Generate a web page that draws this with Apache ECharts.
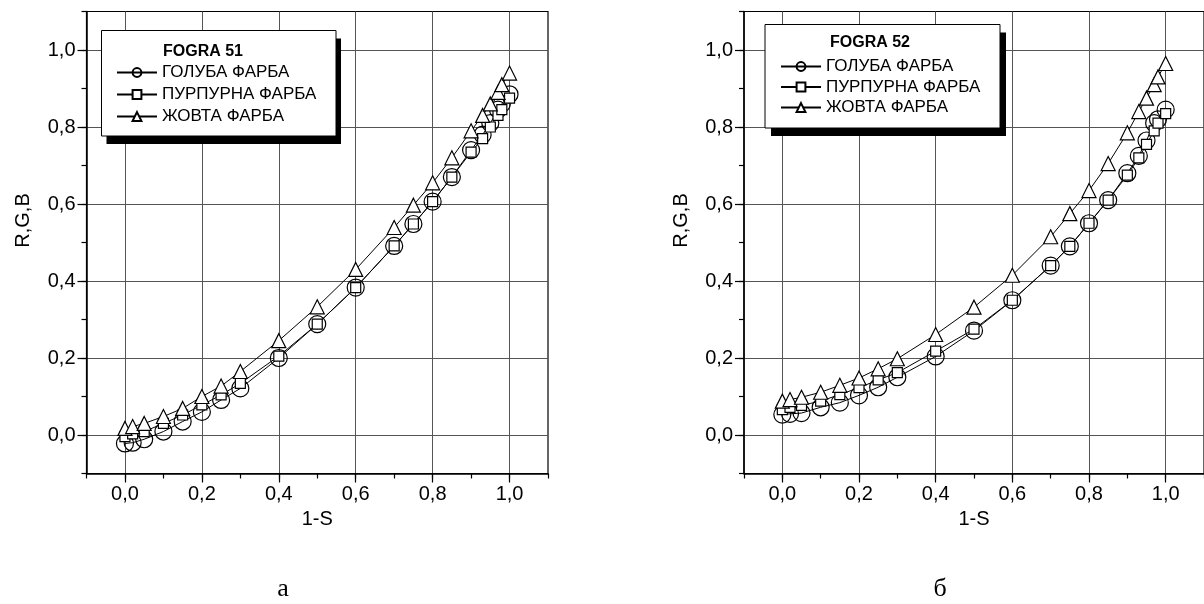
<!DOCTYPE html>
<html><head><meta charset="utf-8">
<script src="https://cdn.jsdelivr.net/npm/echarts@6/dist/echarts.min.js"></script>
<style>html,body{margin:0;padding:0;background:#fff}#c{width:1204px;height:604px}</style>
</head><body><div id="c"></div>
<script>
// ---- data ----
const xValues = [0, 0.02, 0.05, 0.1, 0.15, 0.2, 0.25, 0.3, 0.4, 0.5, 0.6, 0.7, 0.75, 0.8, 0.85, 0.9, 0.93, 0.95, 0.97, 0.98, 1.0];
// FOGRA 51 (a)
const cyan51    = [-0.022, -0.02, -0.011, 0.009, 0.035, 0.06, 0.091, 0.121, 0.2, 0.288, 0.383, 0.491, 0.548, 0.606, 0.67, 0.74, 0.78, 0.81, 0.845, 0.86, 0.885];
const magenta51 = [-0.004, 0.003, 0.009, 0.03, 0.052, 0.078, 0.104, 0.134, 0.205, 0.288, 0.383, 0.491, 0.548, 0.606, 0.67, 0.735, 0.77, 0.8, 0.83, 0.845, 0.875];
const yellow51  = [0.017, 0.022, 0.03, 0.048, 0.069, 0.1, 0.127, 0.165, 0.245, 0.333, 0.43, 0.539, 0.597, 0.655, 0.72, 0.79, 0.83, 0.86, 0.89, 0.91, 0.94];
// FOGRA 52 (б)
const cyan52    = [0.053, 0.055, 0.057, 0.072, 0.084, 0.103, 0.124, 0.15, 0.204, 0.271, 0.35, 0.44, 0.49, 0.55, 0.61, 0.68, 0.725, 0.765, 0.81, 0.82, 0.845];
const magenta52 = [0.066, 0.072, 0.077, 0.088, 0.105, 0.123, 0.143, 0.162, 0.218, 0.275, 0.35, 0.44, 0.49, 0.55, 0.61, 0.675, 0.72, 0.755, 0.79, 0.81, 0.835];
const yellow52  = [0.088, 0.092, 0.098, 0.111, 0.129, 0.148, 0.172, 0.198, 0.261, 0.332, 0.415, 0.515, 0.575, 0.635, 0.705, 0.785, 0.84, 0.875, 0.91, 0.93, 0.965];

const seriesNames = ['ГОЛУБА ФАРБА', 'ПУРПУРНА ФАРБА', 'ЖОВТА ФАРБА'];
const panelTitles = ['FOGRA 51', 'FOGRA 52'];
const panelLetters = ['а', 'б'];
const xTicks = [0, 0.2, 0.4, 0.6, 0.8, 1.0];
const yTicks = [0, 0.2, 0.4, 0.6, 0.8, 1.0];
const xName = '1-S';
const yName = 'R,G,B';

// ---- chart ----
const FONT = '"Liberation Sans", Arial, sans-serif';
const fmt = v => v.toFixed(1).replace('.', ',');
const pair = ys => xValues.map((x, i) => [x, ys[i]]);

const grids = [
  { left: 86.5, top: 11.5, width: 461.5, height: 462 },
  { left: 744, top: 11.5, width: 462, height: 462 }
];

function axesFor(g, isX) {
  const minor = {
    gridIndex: g, type: 'value', min: -0.1, max: 1.1, interval: 0.1,
    position: isX ? 'bottom' : 'left',
    axisLine: { show: true, onZero: false, lineStyle: { color: '#000', width: 1.5 } },
    axisTick: { show: true, length: 5, lineStyle: { color: '#000', width: 1.2 } },
    axisLabel: { show: false }, splitLine: { show: false }
  };
  const major = {
    gridIndex: g, type: 'value', min: -0.1, max: 1.1,
    position: isX ? 'bottom' : 'left',
    axisLine: { show: false, onZero: false },
    axisTick: { show: true, length: 9, customValues: isX ? xTicks : yTicks, lineStyle: { color: '#000', width: 1.2 } },
    axisLabel: { show: true, customValues: isX ? xTicks : yTicks, formatter: fmt, fontSize: 20, color: '#000', fontFamily: FONT, margin: 11 },
    splitLine: { show: true, lineStyle: { color: '#555', width: 1 } },
    name: isX ? xName : yName, nameLocation: 'middle', nameGap: isX ? 36 : 53,
    nameTextStyle: isX
      ? { fontSize: 20, color: '#000', fontFamily: FONT }
      : { fontSize: 20, color: '#000', fontFamily: FONT, padding: [0, 0, 0, 44] }
  };
  return [minor, major];
}

const xAxis = [...axesFor(0, true), ...axesFor(1, true)];
const yAxis = [...axesFor(0, false), ...axesFor(1, false)];

function mk(name, ys, symbol, size, g, fill) {
  return {
    name, type: 'line', data: pair(ys), xAxisIndex: g * 2, yAxisIndex: g * 2,
    symbol, symbolSize: size, showAllSymbol: true,
    lineStyle: { color: '#000', width: 1 },
    itemStyle: { color: fill, borderColor: '#000', borderWidth: 1.2 },
    emphasis: { disabled: true }, animation: false
  };
}

const series = [
  mk(seriesNames[0], cyan51, 'circle', 17, 0, 'rgba(255,255,255,0)'),
  mk(seriesNames[1], magenta51, 'rect', 10, 0, '#fff'),
  mk(seriesNames[2], yellow51, 'triangle', 14, 0, '#fff'),
  mk(seriesNames[0], cyan52, 'circle', 17, 1, 'rgba(255,255,255,0)'),
  mk(seriesNames[1], magenta52, 'rect', 10, 1, '#fff'),
  mk(seriesNames[2], yellow52, 'triangle', 14, 1, '#fff')
];

const legendCommon = {
  orient: 'vertical', itemWidth: 40, itemHeight: 11, selectedMode: false, padding: 0,
  textStyle: { fontSize: 17, color: '#000', fontFamily: FONT, lineHeight: 17 },
  data: seriesNames, z: 6
};

const boxes = [
  { x: 101.5, y: 30.5, w: 234.5, h: 105.5, dx: 5, dy: 8, tx: 203, ty: 52 },
  { x: 765, y: 24.5, w: 235, h: 103.5, dx: 6, dy: 8, tx: 870, ty: 43 }
];
const graphic = [];
boxes.forEach((b, i) => {
  graphic.push({ type: 'rect', z: 3, shape: { x: b.x + b.dx, y: b.y + b.dy, width: b.w, height: b.h }, style: { fill: '#000' } });
  graphic.push({ type: 'rect', z: 3, shape: { x: b.x, y: b.y, width: b.w, height: b.h }, style: { fill: '#fff', stroke: '#000', lineWidth: 1 } });
  graphic.push({ type: 'text', z: 4, x: b.tx, y: b.ty, style: { text: panelTitles[i], font: 'bold 16px ' + FONT, fill: '#000', align: 'center', verticalAlign: 'middle' } });
});
graphic.push({ type: 'text', z: 4, x: 283, y: 602, style: { text: panelLetters[0], font: '26px "Liberation Serif", serif', fill: '#000', align: 'center', verticalAlign: 'bottom' } });
graphic.push({ type: 'text', z: 4, x: 940, y: 602, style: { text: panelLetters[1], font: '26px "Liberation Serif", serif', fill: '#000', align: 'center', verticalAlign: 'bottom' } });

const chart = echarts.init(document.getElementById('c'), null, { renderer: 'canvas' });
chart.setOption({
  animation: false,
  backgroundColor: '#fff',
  grid: grids.map(g => Object.assign({ show: true, borderColor: '#000', borderWidth: 1.2, backgroundColor: 'transparent' }, g)),
  xAxis, yAxis, series,
  legend: [
    Object.assign({}, legendCommon, { left: 116, top: 64, itemGap: 5 }),
    Object.assign({}, legendCommon, { left: 780, top: 58, itemGap: 3.5 })
  ],
  graphic
});
</script>
</body></html>
